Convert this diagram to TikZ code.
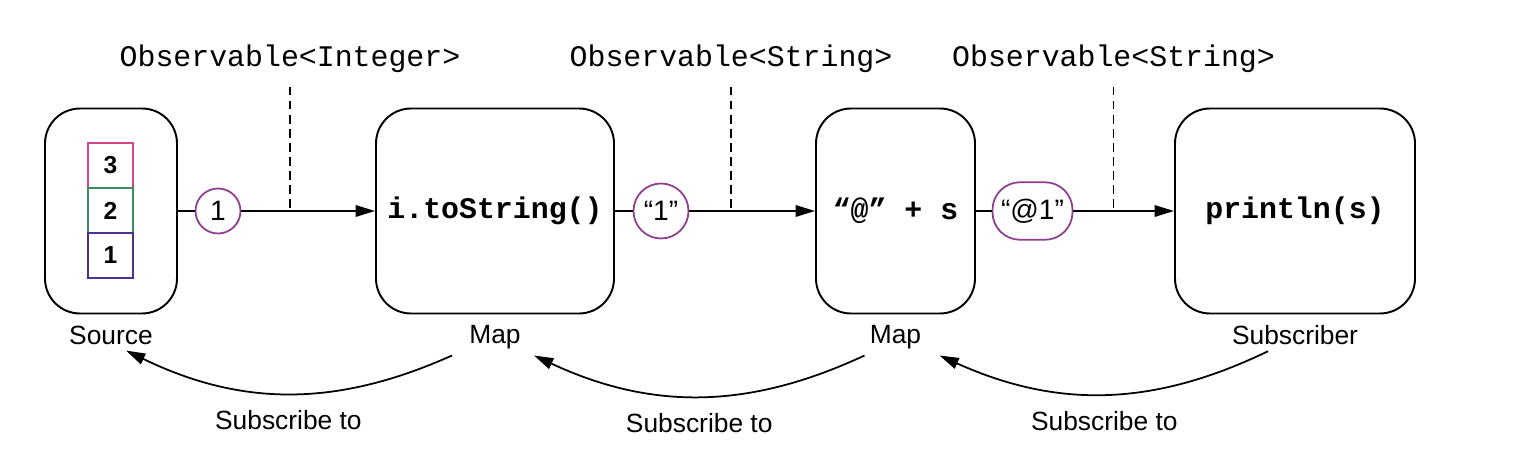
\documentclass[tikz,border=0pt]{standalone}
\usepackage{fontspec}
\setmainfont{Liberation Sans}
\setmonofont{Liberation Mono}
\usepackage{xcolor}
\usepackage{tikz}
\usetikzlibrary{arrows.meta, positioning, calc}

\definecolor{cellpink}{HTML}{D6448E}
\definecolor{cellgreen}{HTML}{3B8B5B}
\definecolor{cellpurple}{HTML}{4E3091}
\definecolor{tokpurple}{HTML}{8E3D91}

\begin{document}
\begin{tikzpicture}[
        >={Triangle[length=11pt,width=6.5pt]},
        box/.style={draw, line width=1.1pt, rounded corners=0.7cm, minimum height=4.1cm,
            font=\fontsize{17}{20}\selectfont\ttfamily\bfseries},
        cell/.style={draw, line width=1pt, minimum size=0.9cm, inner sep=0pt,
            font=\fontsize{14}{16}\selectfont\bfseries},
        tok/.style={draw=tokpurple, line width=1pt, fill=white, inner sep=0pt,
            font=\fontsize{16}{18}\selectfont},
        lbl/.style={font=\fontsize{15}{18}\selectfont},
        obs/.style={font=\fontsize{17}{20}\selectfont\ttfamily},
        flow/.style={line width=1.1pt},
        tap/.style={line width=1.1pt, dash pattern=on 5pt off 3pt},
        subarrow/.style={line width=1pt, ->}
    ]
        \useasboundingbox (0,0) rectangle (30.36,9.12);

        % Boites
        \node[box, minimum width=2.64cm] (source) at (2.22,4.9) {};
        \node[box, minimum width=4.76cm] (map1) at (9.90,4.9) {i.toString()};
        \node[box, minimum width=3.18cm] (map2) at (17.91,4.9) {“@” + s};
        \node[box, minimum width=4.8cm] (sub) at (25.90,4.9) {println(s)};

        % Pile de la source
        \node[cell, draw=cellpink] (c3) at (2.21,5.81) {3};
        \node[cell, draw=cellgreen] (c2) at (2.21,4.91) {2};
        \node[cell, draw=cellpurple] (c1) at (2.21,4.01) {1};

        % Valeurs en transit
        \node[tok, circle, minimum size=0.9cm] (tok1) at (4.36,4.9) {1};
        \node[tok, circle, minimum size=1.1cm] (tok2) at (13.22,4.9) {“1”};
        \node[tok, rounded corners=0.55cm, minimum width=1.6cm, minimum height=1.15cm] (tok3) at (20.65,4.9) {“@1”};

        % Flux
        \draw[flow] (source) -- (tok1);
        \draw[flow, ->] (tok1) -- (map1);
        \draw[flow] (map1) -- (tok2);
        \draw[flow, ->] (tok2) -- (map2);
        \draw[flow] (map2) -- (tok3);
        \draw[flow, ->] (tok3) -- (sub);

        % Types
        \node[obs] (obsint) at (5.80,7.94) {Observable<Integer>};
        \node[obs] (obsstr1) at (14.62,7.94) {Observable<String>};
        \node[obs] (obsstr2) at (22.27,7.94) {Observable<String>};
        \draw[tap] ([yshift=-0.15cm]obsint.south) -- (obsint.south |- tok1.center);
        \draw[tap] ([yshift=-0.15cm]obsstr1.south) -- (obsstr1.south |- tok2.center);
        \draw[tap] ([yshift=-0.15cm]obsstr2.south) -- (obsstr2.south |- tok3.center);

        % Noms
        \node[lbl, below=0.1cm of source] (srclbl) {Source};
        \node[lbl, below=0.1cm of map1] (map1lbl) {Map};
        \node[lbl, below=0.1cm of map2] (map2lbl) {Map};
        \node[lbl, below=0.1cm of sub] (sublbl) {Subscriber};

        % Abonnements
        \draw[subarrow] ([xshift=-0.86cm]map1lbl.south) to[bend left=25]
            node[midway, below=6pt, lbl] {Subscribe to} ([xshift=0.3cm]srclbl.south);
        \draw[subarrow] ([xshift=-0.62cm]map2lbl.south) to[bend left=25]
            node[midway, below=6pt, lbl] {Subscribe to} ([xshift=0.78cm]map1lbl.south);
        \draw[subarrow] ([xshift=-0.54cm]sublbl.south) to[bend left=25]
            node[midway, below=6pt, lbl] {Subscribe to} ([xshift=0.88cm]map2lbl.south);
    \end{tikzpicture}
\end{document}
